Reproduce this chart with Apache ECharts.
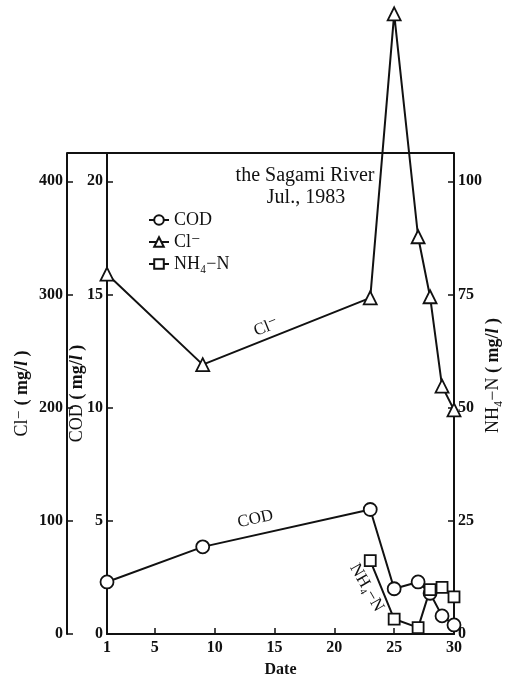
<!DOCTYPE html>
<html>
<head>
<meta charset="utf-8">
<script src="https://cdn.jsdelivr.net/npm/echarts@6/dist/echarts.min.js"></script>
<style>
  html, body { margin: 0; padding: 0; background: #fff; }
  #chart { width: 506px; height: 680px; }
</style>
</head>
<body>
<div id="chart"></div>
<script>
// Tick positions for the date axis and the three concentration axes
const dayLabels = [1, 5, 10, 15, 20, 25, 30];
const dayTicks = [5, 10, 15, 20, 25];
const clTicks = [0, 100, 200, 300, 400];
const codTicks = [0, 5, 10, 15, 20];
const nhTicks = [0, 25, 50, 75, 100];

// Sampling days and measured values (July 1983)
const codDays = [1, 9, 23, 25, 27, 28, 29, 30];
const codValues = [2.3, 3.85, 5.5, 2.0, 2.3, 1.8, 0.8, 0.4];
const clDays = [1, 9, 23, 25, 27, 28, 29, 30];
const clValues = [318, 238, 297, 548, 351, 298, 219, 198];
const nhDays = [23, 25, 27, 28, 29, 30];
const nhValues = [16.2, 3.3, 1.4, 9.8, 10.3, 8.2];

const serif = '"Liberation Serif", "DejaVu Serif", serif';
const ink = '#111';

const chart = echarts.init(document.getElementById('chart'), null, { renderer: 'canvas' });

function pairs(xs, ys) { return xs.map((x, i) => [x, ys[i]]); }

const nameRich = {
  u: { fontFamily: serif, fontSize: 18, fontWeight: 'bold', color: ink },
  i: { fontFamily: serif, fontSize: 18, fontWeight: 'bold', fontStyle: 'italic', color: ink }
};

function yAxis(cfg, ticks, namePad) {
  return Object.assign({
    type: 'value',
    min: 0,
    splitLine: { show: false },
    axisLine: { show: true, lineStyle: { color: ink, width: 2 } },
    axisTick: { show: true, inside: true, length: 6, customValues: ticks, lineStyle: { color: ink, width: 1.5 } },
    axisLabel: { color: ink, fontFamily: serif, fontSize: 16, fontWeight: 'bold', margin: 4, customValues: ticks },
    nameLocation: 'middle',
    nameRotate: 90,
    nameMoveOverlap: false,
    nameTextStyle: { color: ink, fontFamily: serif, fontSize: 18, padding: namePad, rich: nameRich }
  }, cfg);
}

function lineSeries(name, yIndex, symbol, size, data) {
  return {
    name: name,
    type: 'line',
    yAxisIndex: yIndex,
    data: data,
    clip: false,
    symbol: symbol,
    symbolSize: size,
    showAllSymbol: true,
    lineStyle: { color: ink, width: 2 },
    itemStyle: { color: '#fff', borderColor: ink, borderWidth: 1.8 },
    emphasis: { disabled: true },
    z: 3
  };
}

const clAxis = yAxis({ position: 'left', offset: 40, max: 425,
  name: 'Cl⁻ {u|( mg/}{i|l}{u| )}', nameGap: 36 }, clTicks, 0);
const codAxis = yAxis({ position: 'left', offset: 0, max: 21.25,
  name: 'COD {u|( mg/}{i|l}{u| )}', nameGap: 21 }, codTicks, 0);
const nhAxis = yAxis({ position: 'right', offset: 0, max: 106.25,
  name: 'NH₄−N {u|( mg/}{i|l}{u| )}', nameGap: 30 }, nhTicks, [0, 0, 0, 36]);

chart.setOption({
  animation: false,
  backgroundColor: '#fff',
  grid: { left: 107, right: 52, top: 153, bottom: 46, outerBoundsMode: 'none' },
  title: [
    { text: 'the Sagami River', left: 300, top: 161, textAlign: 'center',
      textStyle: { color: ink, fontFamily: serif, fontSize: 20, fontWeight: 'normal' } },
    { text: 'Jul., 1983', left: 301, top: 183, textAlign: 'center',
      textStyle: { color: ink, fontFamily: serif, fontSize: 20, fontWeight: 'normal' } }
  ],
  legend: {
    orient: 'vertical', left: 143, top: 206, itemGap: 4,
    itemWidth: 20, itemHeight: 12,
    textStyle: { color: ink, fontFamily: serif, fontSize: 18 },
    selectedMode: false,
    data: ['COD', 'Cl⁻', 'NH₄−N']
  },
  xAxis: {
    type: 'value', min: 1, max: 30,
    splitLine: { show: false },
    axisLine: { show: true, lineStyle: { color: ink, width: 2 } },
    axisTick: { show: true, inside: true, length: 6, customValues: dayTicks, lineStyle: { color: ink, width: 1.5 } },
    axisLabel: { color: ink, fontFamily: serif, fontSize: 16, fontWeight: 'bold', margin: 6, customValues: dayLabels },
    name: 'Date', nameLocation: 'middle', nameGap: 28, nameMoveOverlap: false,
    nameTextStyle: { color: ink, fontFamily: serif, fontSize: 16, fontWeight: 'bold' }
  },
  yAxis: [clAxis, codAxis, nhAxis],
  series: [
    lineSeries('COD', 1, 'circle', 13, pairs(codDays, codValues)),
    lineSeries('Cl⁻', 0, 'triangle', 13, pairs(clDays, clValues)),
    lineSeries('NH₄−N', 2, 'rect', 11, pairs(nhDays, nhValues))
  ]
});

// Frame top edge and in-plot series captions, placed through the axes
const topY = chart.convertToPixel({ yAxisIndex: 0 }, 425);
const rightX = chart.convertToPixel({ xAxisIndex: 0 }, 30);
const leftX = chart.convertToPixel({ xAxisIndex: 0 }, 1) - 40;
const clPos = chart.convertToPixel({ seriesIndex: 1 }, [14.3, 271]);
const codPos = chart.convertToPixel({ seriesIndex: 0 }, [13.4, 5.08]);
const nhPos = chart.convertToPixel({ seriesIndex: 2 }, [22.7, 10.2]);

function caption(text, pos, rot) {
  return {
    type: 'text', x: pos[0], y: pos[1], rotation: rot,
    style: { text: text, fill: ink, font: '17px ' + serif, align: 'center', verticalAlign: 'middle' },
    z: 10
  };
}

chart.setOption({
  graphic: [
    { type: 'line', shape: { x1: leftX, y1: topY, x2: rightX, y2: topY },
      style: { stroke: ink, lineWidth: 2 }, z: 5 },
    caption('Cl⁻', clPos, 0.38),
    caption('COD', codPos, 0.22),
    caption('NH₄−N', nhPos, -1.05)
  ]
});
</script>
</body>
</html>
